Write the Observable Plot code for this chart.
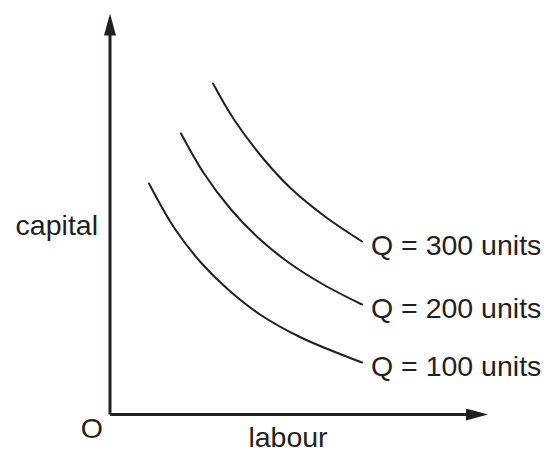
<!DOCTYPE html>
<html>
<head>
<meta charset="utf-8">
<script src="https://cdn.jsdelivr.net/npm/d3@7"></script>
<script src="https://cdn.jsdelivr.net/npm/@observablehq/plot@0.6"></script>
<style>
  html, body { margin: 0; padding: 0; background: #fff; }
  #chart svg { display: block; }
</style>
</head>
<body>
<div id="chart"></div>
<script>
// Isoquant data (labour, capital)
const q100Labour  = [39, 64, 90, 117, 150, 191, 252];
const q100Capital = [231, 187, 153, 126, 100, 77, 52];
const q200Labour  = [71, 94, 121, 149, 180, 215, 252];
const q200Capital = [281, 241, 205, 176, 151, 129, 110];
const q300Labour  = [103, 124, 154, 181, 215, 252];
const q300Capital = [331, 295, 255, 226, 198, 173];
const curveLabels = ["Q = 100 units", "Q = 200 units", "Q = 300 units"];
const xAxisLabel = "labour";
const yAxisLabel = "capital";
const originLabel = "O";
const labourMax = 368;
const capitalMax = 391;

const series = [
  {label: curveLabels[0], labour: q100Labour, capital: q100Capital},
  {label: curveLabels[1], labour: q200Labour, capital: q200Capital},
  {label: curveLabels[2], labour: q300Labour, capital: q300Capital}
];
const points = series.flatMap(s => s.labour.map((l, i) => ({series: s.label, labour: l, capital: s.capital[i]})));
const ends = series.map(s => ({series: s.label, labour: s.labour[s.labour.length - 1], capital: s.capital[s.capital.length - 1]}));

const ink = "#231f20";
const font = "'Liberation Sans', Arial, Helvetica, sans-serif";

function arrowHead(color, context) {
  const doc = (context && context.document) || document;
  const m = doc.createElementNS("http://www.w3.org/2000/svg", "marker");
  m.setAttribute("viewBox", "-12 -6 22 12");
  m.setAttribute("markerWidth", 22);
  m.setAttribute("markerHeight", 12);
  m.setAttribute("markerUnits", "userSpaceOnUse");
  m.setAttribute("refX", 0);
  m.setAttribute("refY", 0);
  m.setAttribute("orient", "auto");
  const p = doc.createElementNS("http://www.w3.org/2000/svg", "path");
  p.setAttribute("d", "M-12,-6L10,0L-12,6Z");
  p.setAttribute("fill", ink);
  p.setAttribute("stroke", "none");
  m.appendChild(p);
  return m;
}

const axes = [
  {x1: 0, y1: 0, x2: labourMax, y2: 0},
  {x1: 0, y1: 0, x2: 0, y2: capitalMax}
];

const chart = Plot.plot({
  width: 548,
  height: 453,
  marginLeft: 109.5,
  marginRight: 70.5,
  marginTop: 23,
  marginBottom: 39,
  x: {domain: [0, labourMax], axis: null},
  y: {domain: [0, capitalMax], axis: null},
  style: {fontFamily: font, background: "#fff"},
  marks: [
    Plot.line(points, {x: "labour", y: "capital", z: "series", stroke: ink, strokeWidth: 2, curve: "catmull-rom"}),
    Plot.link(axes, {x1: "x1", y1: "y1", x2: "x2", y2: "y2", stroke: ink, strokeWidth: 3, markerEnd: arrowHead}),
    Plot.text(ends, {x: "labour", y: "capital", text: "series", textAnchor: "start", lineAnchor: "middle", dx: 9, dy: 4, fontSize: 28.5, fill: ink}),
    Plot.text([yAxisLabel], {frameAnchor: "left", text: d => d, textAnchor: "end", lineAnchor: "middle", dx: -12, dy: 7, fontSize: 28.5, fill: ink}),
    Plot.text([xAxisLabel], {frameAnchor: "bottom", text: d => d, textAnchor: "middle", lineAnchor: "bottom", dx: -6, dy: 32, fontSize: 28.5, fill: ink}),
    Plot.text([originLabel], {frameAnchor: "bottom-left", text: d => d, textAnchor: "end", lineAnchor: "middle", dx: -7, dy: 14, fontSize: 28.5, fill: ink})
  ]
});
document.getElementById("chart").appendChild(chart);
</script>
</body>
</html>
